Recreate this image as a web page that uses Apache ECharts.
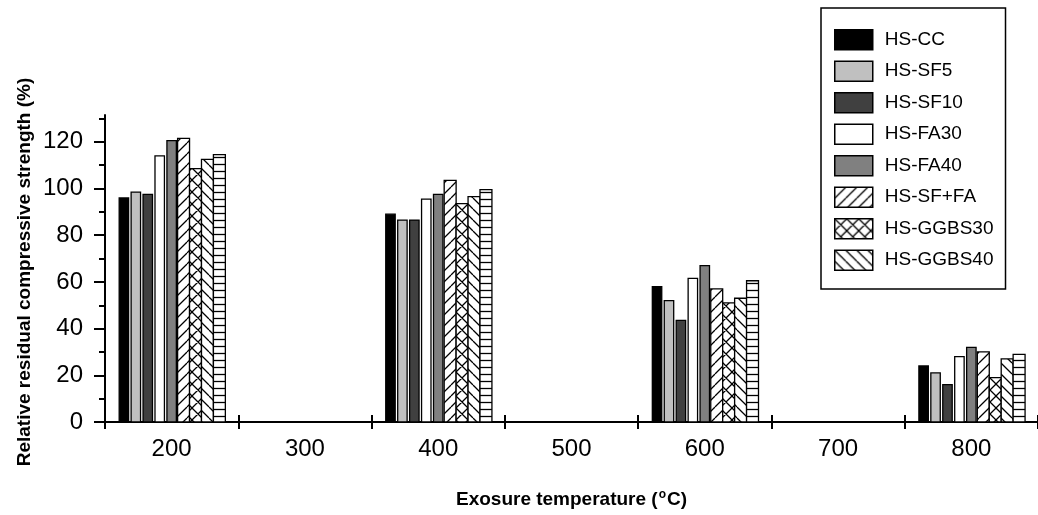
<!DOCTYPE html>
<html><head><meta charset="utf-8">
<script src="https://cdn.jsdelivr.net/npm/echarts@6/dist/echarts.min.js"></script>
<style>html,body{margin:0;padding:0;background:#fff}#c{width:1038px;height:515px}</style>
</head><body><div id="c"></div>
<script>
// ---- data ----
const categories = ['200', '300', '400', '500', '600', '700', '800'];
const seriesNames = ['HS-CC', 'HS-SF5', 'HS-SF10', 'HS-FA30', 'HS-FA40', 'HS-SF+FA', 'HS-GGBS30', 'HS-GGBS40', 'HS-GGBS40 (b)'];
const hsCC     = [96,    null, 89,    null, 58,   null, 24];
const hsSF5    = [98.5,  null, 86.5,  null, 52,   null, 21];
const hsSF10   = [97.5,  null, 86.5,  null, 43.5, null, 16];
const hsFA30   = [114,   null, 95.5,  null, 61.5, null, 28];
const hsFA40   = [120.5, null, 97.5,  null, 67,   null, 32];
const hsSFFA   = [121.5, null, 103.5, null, 57,   null, 30];
const hsGGBS30 = [108.5, null, 93.5,  null, 51,   null, 19];
const hsGGBS40 = [112.5, null, 96.5,  null, 53,   null, 27];
const hsExtra  = [114.5, null, 99.5,  null, 60.5, null, 29];
const yTickLabels = [0, 20, 40, 60, 80, 100, 120];
const yMinorTicks = [10, 30, 50, 70, 90, 110, 130];
const yTitle = 'Relative residual compressive strength (%)';
const xTitle = 'Exosure temperature ({sup|o}C)';

const allValues = [hsCC, hsSF5, hsSF10, hsFA30, hsFA40, hsSFFA, hsGGBS30, hsGGBS40, hsExtra];

// ---- patterns ----
function makePattern(kind) {
  const c = document.createElement('canvas');
  let w = 11, h = 11;
  if (kind === 'x') { w = 12; h = 12; }
  if (kind === 'h') { w = 8; h = 7; }
  c.width = w; c.height = h;
  const g = c.getContext('2d');
  g.fillStyle = '#fff'; g.fillRect(0, 0, w, h);
  g.strokeStyle = '#000'; g.lineWidth = 1.3;
  g.beginPath();
  if (kind === '/' || kind === 'x') {
    for (let k = -1; k <= 1; k++) { g.moveTo(k * w, h); g.lineTo(k * w + w, 0); }
  }
  if (kind === '\\' || kind === 'x') {
    for (let k = -1; k <= 1; k++) { g.moveTo(k * w, 0); g.lineTo(k * w + w, h); }
  }
  if (kind === 'h') { g.moveTo(0, 3.5); g.lineTo(w, 3.5); }
  g.stroke();
  return { image: c, repeat: 'repeat' };
}

const fills = [
  { c: '#000000', solid: true },
  { c: '#c0c0c0', solid: true },
  { c: '#404040', solid: true },
  { c: '#ffffff', solid: true },
  { c: '#808080', solid: true },
  { c: makePattern('/'), solid: false },
  { c: makePattern('x'), solid: false },
  { c: makePattern('\\'), solid: false },
  { c: makePattern('h'), solid: false }
];

const PITCH_RATIO = 12 / 134;
const FONT = "'Liberation Sans', Arial, Helvetica, sans-serif";

function makeRender(k, solid) {
  return function (params, api) {
    const cat = api.value(0), val = api.value(1);
    const p0 = api.coord([cat, 0]);
    const p1 = api.coord([cat, val]);
    const band = api.size([1, 0])[0];
    const pitch = band * PITCH_RATIO;
    const cx = p0[0] + (k - 4) * pitch;
    const w = solid ? pitch - 2.5 : pitch;
    return {
      type: 'rect',
      shape: { x: cx - w / 2, y: p1[1], width: w, height: p0[1] - p1[1] },
      style: api.style()
    };
  };
}

const series = allValues.map((arr, k) => ({
  type: 'custom',
  name: seriesNames[k],
  xAxisIndex: 0,
  yAxisIndex: 0,
  renderItem: makeRender(k, fills[k].solid),
  encode: { x: 0, y: 1 },
  itemStyle: { color: fills[k].c, borderColor: '#000', borderWidth: 1.3 },
  data: arr.map((v, i) => v == null ? null : [i, v]).filter(d => d)
}));

const chart = echarts.init(document.getElementById('c'), null, { renderer: 'canvas' });
chart.setOption({
  animation: false,
  backgroundColor: '#fff',
  textStyle: { fontFamily: FONT, color: '#000' },
  grid: { left: 105, right: -5, top: 115, bottom: 93, containLabel: false },
  legend: {
    data: seriesNames.slice(0, 8),
    orient: 'vertical',
    left: 821, top: 8,
    padding: [21, 12, 18, 13],
    itemWidth: 38, itemHeight: 20, itemGap: 10,
    icon: 'rect',
    selectedMode: false,
    backgroundColor: '#fff',
    borderColor: '#000', borderWidth: 1.5,
    itemStyle: { borderColor: '#000', borderWidth: 1.5 },
    textStyle: { fontSize: 19, color: '#000', fontFamily: FONT, padding: [0, 0, 0, 7] }
  },
  graphic: [{
    type: 'text',
    x: 25, y: 272,
    rotation: Math.PI / 2,
    silent: true,
    style: {
      text: yTitle,
      font: "bold 19px 'Liberation Sans', Arial, sans-serif",
      fill: '#000',
      align: 'center',
      verticalAlign: 'middle'
    }
  }],
  xAxis: [{
    type: 'category',
    data: categories,
    boundaryGap: true,
    axisLine: { lineStyle: { color: '#000', width: 2 } },
    axisTick: { show: true, inside: false, length: 7, interval: 0, lineStyle: { color: '#000', width: 2 } },
    axisLabel: { fontSize: 24, margin: 15, color: '#000', interval: 0, fontFamily: FONT },
    splitLine: { show: false },
    name: xTitle,
    nameLocation: 'middle',
    nameGap: 67,
    nameTextStyle: {
      fontSize: 19, fontWeight: 'bold', color: '#000', fontFamily: FONT,
      rich: { sup: { fontSize: 12, fontWeight: 'bold', fontFamily: FONT, verticalAlign: 'top', padding: [0, 1, 10, 1] } }
    }
  }, {
    type: 'category',
    data: categories,
    boundaryGap: true,
    position: 'bottom',
    axisLine: { show: false },
    axisTick: { show: true, inside: true, length: 7, interval: 0, lineStyle: { color: '#000', width: 2 } },
    axisLabel: { show: false },
    splitLine: { show: false }
  }],
  yAxis: [{
    type: 'value',
    min: 0, max: 131.5, interval: 20,
    axisLine: { show: true, lineStyle: { color: '#000', width: 2 } },
    axisTick: { show: true, inside: false, length: 11, customValues: yTickLabels, lineStyle: { color: '#000', width: 2 } },
    axisLabel: { fontSize: 24, margin: 22, color: '#000', customValues: yTickLabels, fontFamily: FONT },
    splitLine: { show: false }
  }, {
    type: 'value',
    min: 0, max: 131.5, interval: 10,
    position: 'left',
    axisLine: { show: false },
    axisTick: { show: true, inside: false, length: 6, customValues: yMinorTicks, lineStyle: { color: '#000', width: 2 } },
    axisLabel: { show: false },
    splitLine: { show: false }
  }],
  series: series
});
</script>
</body></html>
